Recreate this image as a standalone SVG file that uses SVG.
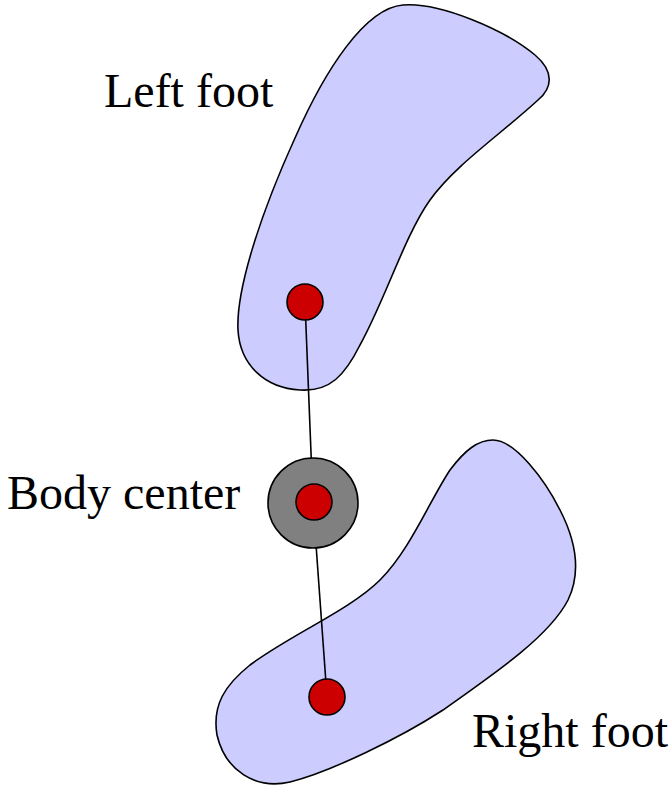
<svg xmlns="http://www.w3.org/2000/svg" width="669" height="789" viewBox="0 0 669 789">
<style>
.foot{fill:#ccccff;stroke:#000;stroke-width:1.6}
.dot{fill:#cc0000;stroke:#000;stroke-width:1.6}
.ring{fill:#808080;stroke:#000;stroke-width:1.6}
.conn{stroke:#000;stroke-width:1.6;fill:none}
.lbl{font-family:"Liberation Serif","Times New Roman",serif;font-size:48px;fill:#000}
</style>
<rect width="669" height="789" fill="#fff"/>
<g id="left-foot">
<path class="foot" d="M403,5 C440,2 505,30 535,55 C555,72 552,88 538,100 C500,135 455,165 430,200 C405,235 385,300 360,345 C345,375 330,392 300,390 C265,388 240,365 238,330 C236,290 260,215 295,138 C325,70 365,8 403,5 Z"/>
</g>
<g id="right-foot">
<path class="foot" d="M493,440 C515,440 545,480 560,510 C578,545 580,575 568,600 C550,635 500,670 443,710 C400,738 330,772 290,782 C255,790 225,770 217,735 C212,705 225,685 250,665 C290,635 350,610 380,580 C410,550 430,500 450,470 C465,450 478,440 493,440 Z"/>
</g>
<g id="connectors">
<line class="conn" x1="305" y1="302" x2="313" y2="503"/>
<line class="conn" x1="313" y1="503" x2="327" y2="697"/>
</g>
<g id="body-center">
<circle class="ring" cx="313" cy="503" r="45"/>
<circle class="dot" cx="314" cy="502" r="18"/>
</g>
<g id="left-point"><circle class="dot" cx="305" cy="302" r="18"/></g>
<g id="right-point"><circle class="dot" cx="327" cy="697" r="18"/></g>
<text class="lbl" x="104" y="107">Left foot</text>
<text class="lbl" x="7" y="509">Body center</text>
<text class="lbl" x="472" y="747">Right foot</text>
</svg>
